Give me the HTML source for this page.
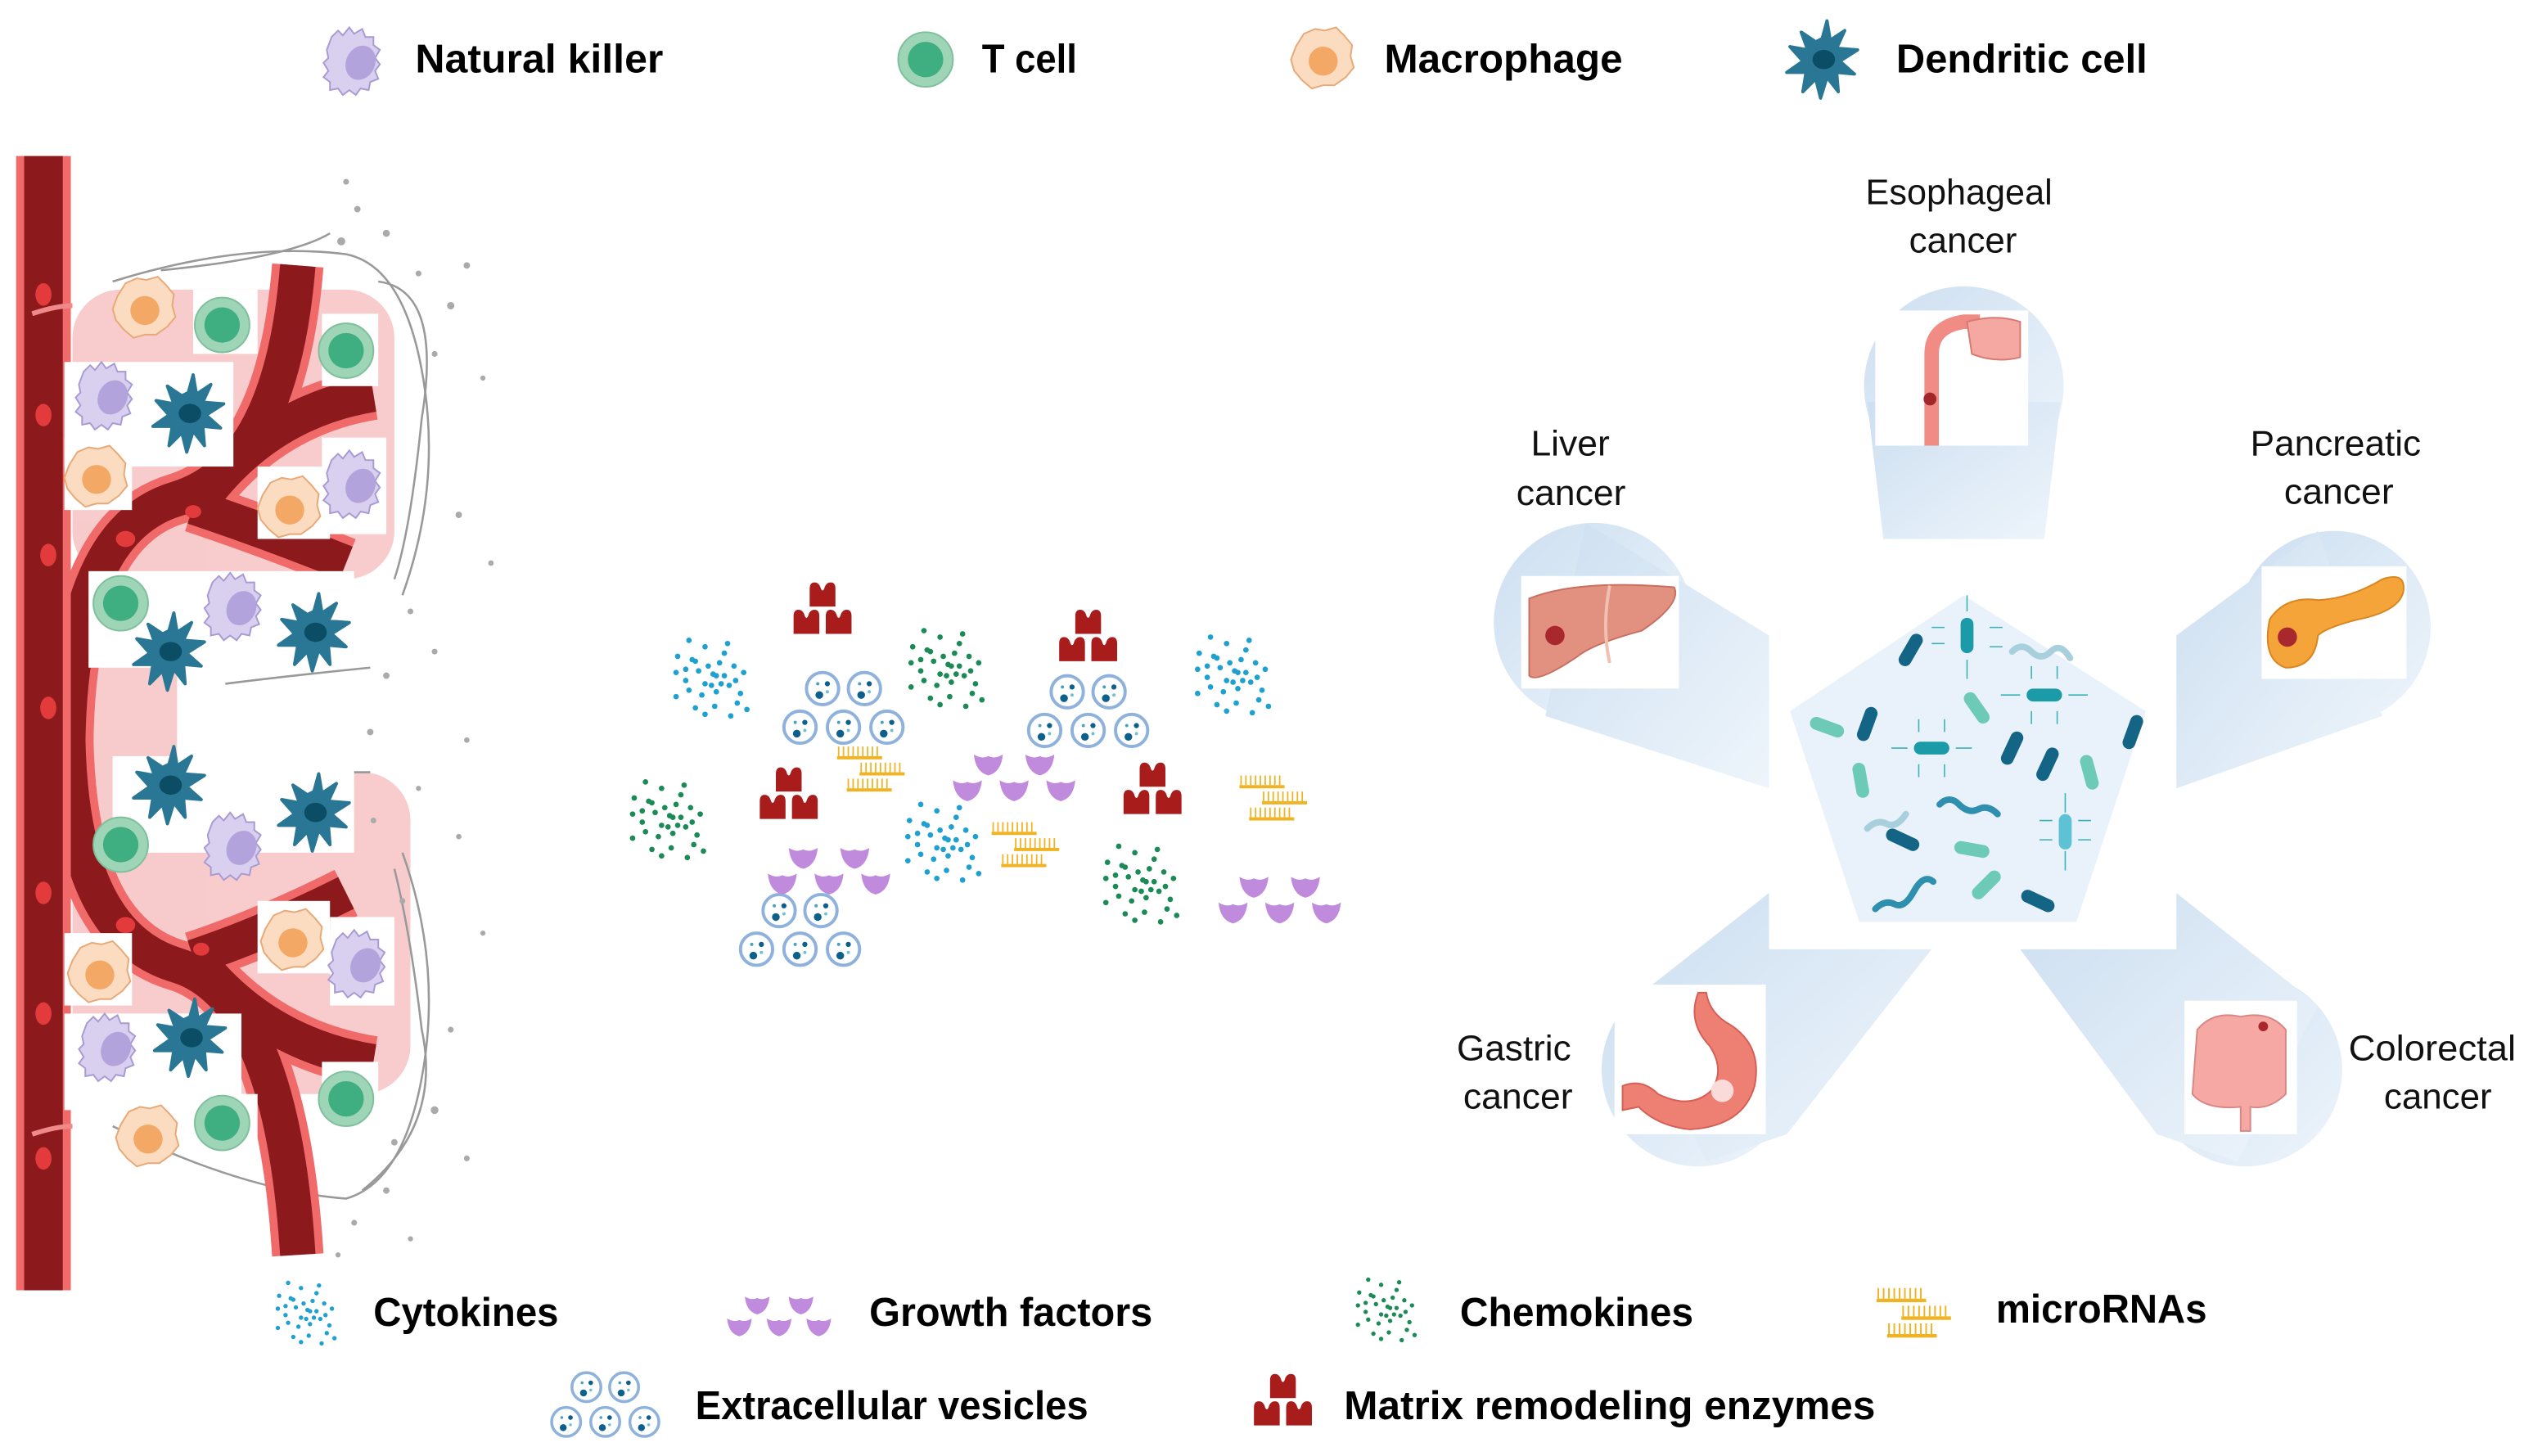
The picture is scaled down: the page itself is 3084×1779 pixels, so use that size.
<!DOCTYPE html>
<html><head><meta charset="utf-8"><style>
html,body{margin:0;padding:0;background:#fff;width:3084px;height:1779px;overflow:hidden}
svg{display:block}
.b{font-family:"Liberation Sans",sans-serif;font-weight:bold;font-size:25px;fill:#000}
.r{font-family:"Liberation Sans",sans-serif;font-size:22px;fill:#111}
</style></head><body>
<svg width="3084" height="1779" viewBox="0 0 1568 905" preserveAspectRatio="none" xmlns="http://www.w3.org/2000/svg">
<defs>
<linearGradient id="bg1" x1="0" y1="0" x2="1" y2="1"><stop offset="0" stop-color="#cddff1"/><stop offset="1" stop-color="#eef5fb"/></linearGradient>
<g id="nk"><path d="M-16,-14 l4,-4 3,3 4,-5 3,4 5,-3 2,5 5,0 0,5 4,3 -3,5 3,4 -3,4 2,5 -5,2 -1,5 -5,-1 -3,4 -4,-3 -4,3 -3,-4 -5,1 0,-5 -4,-3 3,-4 -3,-5 3,-3 -1,-5z" fill="#d8d0ee" stroke="#a99ad4" stroke-width="1"/><ellipse cx="2" cy="2" rx="9" ry="11" fill="#b3a3dc" transform="rotate(25 2 2)"/></g>
<g id="tc"><circle r="17" fill="#9dd5b6" stroke="#7fbf9c"/><circle r="11" fill="#3fae80"/></g>
<g id="mac"><path d="M-17,-8 l5,-8 7,-3 6,1 7,-2 5,5 5,6 -1,7 2,7 -5,6 -7,5 -7,0 -7,2 -6,-5 -5,-6 -2,-7z" fill="#fbdcc0" stroke="#e8a877"/><ellipse cx="0" cy="1" rx="9" ry="9" fill="#f4a865"/></g>
<g id="dc"><path d="M0,-13 L3,-24 5,-12 14,-18 9,-7 22,-6 11,1 20,9 9,8 10,20 3,11 -1,24 -4,12 -12,20 -10,8 -22,8 -12,1 -20,-8 -9,-6 -13,-17 -4,-11z" fill="#2a7795" stroke="#2a7795" stroke-width="2" stroke-linejoin="round"/><ellipse cx="1" cy="0" rx="7" ry="6" fill="#0c4d66"/></g>
<g id="mu"><path d="M-8,7 V-4 Q-8,-8 -5,-8 Q-2,-8 -1,-4 Q0,-2 1,-4 Q2,-8 5,-8 Q8,-8 8,-4 V7z" fill="#a81c1c"/></g>
<g id="mme"><use href="#mu" y="-8"/><use href="#mu" x="-10" y="9"/><use href="#mu" x="10" y="9"/></g>
<g id="ve"><circle r="10" fill="#fff" stroke="#8fb2dc" stroke-width="2"/><circle cx="-2" cy="4" r="2.4" fill="#0d5f8c"/><circle cx="3" cy="-3" r="1.6" fill="#0d5f8c"/><circle cx="-3" cy="-3" r="1" fill="#4aa0c0"/><circle cx="3" cy="2" r="1" fill="#6fc0d0"/></g>
<g id="ev"><use href="#ve" x="-13" y="-12"/><use href="#ve" x="13" y="-12"/><use href="#ve" x="-27" y="12"/><use href="#ve" x="0" y="12"/><use href="#ve" x="27" y="12"/></g>
<g id="cr"><path d="M-9,-5 Q-4,-2 0,-4 Q4,-2 9,-5 Q8,6 0,8 Q-8,6 -9,-5z" fill="#c08bdc"/></g>
<g id="gf"><use href="#cr" x="-16" y="-8"/><use href="#cr" x="16" y="-8"/><use href="#cr" x="-29" y="8"/><use href="#cr" x="0" y="8"/><use href="#cr" x="29" y="8"/></g>
<g id="cm"><rect x="-14" y="2" width="28" height="2" fill="#f0b323"/><path d="M-13,2v-6M-10,2v-6M-7,2v-6M-4,2v-6M-1,2v-6M2,2v-6M5,2v-6M8,2v-6M11,2v-6" stroke="#f0b323" stroke-width="0.9"/></g>
<g id="mi"><use href="#cm" x="-8" y="-10"/><use href="#cm" x="6" y="0"/><use href="#cm" x="-2" y="10"/></g>
<g id="dots"><circle cx="-20" cy="-22" r="1.7"/><circle cx="-10" cy="-18" r="1.7"/><circle cx="2" cy="-14" r="1.7"/><circle cx="-27" cy="-12" r="1.7"/><circle cx="-18" cy="-10" r="1.7"/><circle cx="-16" cy="-9" r="1.7"/><circle cx="-8" cy="-6" r="1.7"/><circle cx="-1" cy="-8" r="1.7"/><circle cx="8" cy="-6" r="1.7"/><circle cx="14" cy="-2" r="1.7"/><circle cx="-28" cy="-2" r="1.7"/><circle cx="-14" cy="-3" r="1.7"/><circle cx="-5" cy="-1" r="1.7"/><circle cx="-3" cy="0" r="1.7"/><circle cx="2" cy="0" r="1.7"/><circle cx="9" cy="3" r="1.7"/><circle cx="-22" cy="3" r="1.7"/><circle cx="-10" cy="5" r="1.7"/><circle cx="-6" cy="6" r="1.7"/><circle cx="0" cy="5" r="1.7"/><circle cx="5" cy="6" r="1.7"/><circle cx="-20" cy="9" r="1.7"/><circle cx="-12" cy="12" r="1.7"/><circle cx="-3" cy="10" r="1.7"/><circle cx="12" cy="11" r="1.7"/><circle cx="-28" cy="13" r="1.7"/><circle cx="-4" cy="19" r="1.7"/><circle cx="-16" cy="20" r="1.7"/><circle cx="10" cy="17" r="1.7"/><circle cx="-10" cy="24" r="1.7"/><circle cx="6" cy="25" r="1.7"/><circle cx="16" cy="21" r="1.7"/><circle cx="-22" cy="-4" r="1.7"/><circle cx="4" cy="-20" r="1.7"/></g>
<g id="cy" fill="#1ea0d0"><use href="#dots"/></g>
<g id="ch" fill="#1b8a56"><use href="#dots"/></g>
<g id="bac"><rect x="-4" y="-11" width="8" height="22" rx="4"/></g>
</defs>

<!-- top legend -->
<use href="#nk" x="222" y="37"/>
<text class="b" x="258" y="45" textLength="154" lengthAdjust="spacingAndGlyphs">Natural killer</text>
<use href="#tc" x="575" y="37"/>
<text class="b" x="610" y="45" textLength="59" lengthAdjust="spacingAndGlyphs">T cell</text>
<use href="#mac" x="822" y="37"/>
<text class="b" x="860" y="45" textLength="148" lengthAdjust="spacingAndGlyphs">Macrophage</text>
<use href="#dc" x="1132" y="37"/>
<text class="b" x="1178" y="45" textLength="156" lengthAdjust="spacingAndGlyphs">Dendritic cell</text>

<!-- left tissue -->
<g>
<g fill="#f7c6c6" opacity="0.9">
<rect x="45" y="180" width="200" height="180" rx="30"/>
<rect x="45" y="480" width="210" height="200" rx="30"/>
<rect x="50" y="330" width="60" height="200" rx="20"/>
</g>
<g fill="none" stroke="#999" stroke-width="1.3">
<path d="M70,175 Q150,150 215,158 Q250,165 262,230 Q275,300 250,370"/>
<path d="M100,168 Q180,160 205,145"/>
<path d="M235,175 Q275,180 262,260 Q255,330 245,360"/>
<path d="M70,700 Q150,740 215,745 Q250,735 262,670 Q275,600 250,530"/>
<path d="M225,740 Q275,700 262,640 Q255,580 245,540"/>
<path d="M140,425 Q180,420 230,415"/><path d="M140,480 Q180,480 230,480"/>
</g>
<g fill="#aaa">
<circle cx="215" cy="113" r="1.8"/><circle cx="222" cy="130" r="2"/><circle cx="240" cy="145" r="2.2"/><circle cx="212" cy="150" r="2.5"/><circle cx="260" cy="170" r="1.8"/><circle cx="290" cy="165" r="2"/><circle cx="280" cy="190" r="2.3"/><circle cx="270" cy="220" r="1.8"/><circle cx="300" cy="235" r="1.6"/><circle cx="285" cy="320" r="2"/><circle cx="305" cy="350" r="1.7"/><circle cx="255" cy="380" r="1.8"/><circle cx="270" cy="405" r="1.8"/><circle cx="240" cy="420" r="2"/><circle cx="290" cy="460" r="1.7"/><circle cx="260" cy="490" r="1.6"/><circle cx="285" cy="520" r="1.7"/><circle cx="250" cy="560" r="1.8"/><circle cx="300" cy="580" r="1.6"/><circle cx="280" cy="640" r="1.8"/><circle cx="270" cy="690" r="2.4"/><circle cx="290" cy="720" r="1.8"/><circle cx="240" cy="740" r="2"/><circle cx="220" cy="760" r="1.8"/><circle cx="255" cy="770" r="1.6"/><circle cx="210" cy="780" r="1.6"/><circle cx="245" cy="710" r="2"/><circle cx="230" cy="455" r="2"/><circle cx="232" cy="510" r="1.8"/>
</g>
<g fill="none" stroke-linecap="butt">
<g stroke="#f06a6a" stroke-width="32">
<path d="M42,470 Q42,330 110,310 Q175,290 185,165"/>
<path d="M130,305 Q170,255 232,245"/>
<path d="M120,315 Q165,330 215,350"/>
<path d="M42,450 Q42,580 110,600 Q175,620 185,780"/>
<path d="M130,605 Q170,650 232,660"/>
<path d="M120,595 Q165,580 215,555"/>
</g>
<g stroke="#8c1a1d" stroke-width="22">
<path d="M42,470 Q42,330 110,310 Q175,290 185,165"/>
<path d="M130,305 Q170,255 232,245"/>
<path d="M120,315 Q165,330 215,350"/>
<path d="M42,450 Q42,580 110,600 Q175,620 185,780"/>
<path d="M130,605 Q170,650 232,660"/>
<path d="M120,595 Q165,580 215,555"/>
</g>
</g>
<rect x="10" y="97" width="34" height="705" fill="#f06a6a"/>
<rect x="15" y="97" width="24" height="705" fill="#8c1a1d"/>
<g fill="#e33b3b"><ellipse cx="27" cy="183" rx="5" ry="7"/><ellipse cx="27" cy="258" rx="5" ry="7"/><ellipse cx="30" cy="345" rx="5" ry="7"/><ellipse cx="30" cy="440" rx="5" ry="7"/><ellipse cx="27" cy="555" rx="5" ry="7"/><ellipse cx="27" cy="630" rx="5" ry="7"/><ellipse cx="27" cy="720" rx="5" ry="7"/><ellipse cx="78" cy="335" rx="6" ry="5"/><ellipse cx="120" cy="318" rx="5" ry="4"/><ellipse cx="125" cy="590" rx="5" ry="4"/><ellipse cx="78" cy="575" rx="6" ry="5"/></g>
<g fill="#fff">
<rect x="40" y="225" width="105" height="65"/><rect x="40" y="272" width="42" height="45"/><rect x="160" y="290" width="45" height="45"/><rect x="200" y="272" width="40" height="60"/><rect x="55" y="355" width="165" height="60"/><rect x="70" y="470" width="150" height="60"/><rect x="40" y="580" width="42" height="45"/><rect x="40" y="630" width="110" height="60"/><rect x="160" y="560" width="45" height="45"/><rect x="205" y="570" width="40" height="55"/><rect x="200" y="195" width="35" height="45"/><rect x="200" y="660" width="35" height="45"/><rect x="120" y="180" width="40" height="40"/><rect x="120" y="680" width="40" height="40"/>
</g>
<use href="#mac" x="90" y="192"/>
<use href="#tc" x="138" y="202"/>
<use href="#tc" x="215" y="218"/>
<use href="#nk" x="68" y="245"/>
<use href="#dc" x="117" y="257"/>
<use href="#mac" x="60" y="297"/>
<use href="#mac" x="180" y="316"/>
<use href="#nk" x="222" y="300"/>
<use href="#tc" x="75" y="375"/>
<use href="#nk" x="148" y="376"/>
<use href="#dc" x="105" y="405"/>
<use href="#dc" x="195" y="393"/>
<use href="#dc" x="105" y="488"/>
<use href="#dc" x="195" y="505"/>
<use href="#tc" x="75" y="525"/>
<use href="#nk" x="148" y="525"/>
<use href="#mac" x="182" y="585"/>
<use href="#nk" x="225" y="598"/>
<use href="#mac" x="62" y="605"/>
<use href="#nk" x="70" y="650"/>
<use href="#dc" x="118" y="645"/>
<use href="#tc" x="215" y="683"/>
<use href="#tc" x="138" y="698"/>
<use href="#mac" x="92" y="707"/>
<path d="M20,195 Q35,190 45,190" stroke="#f08a8a" stroke-width="3" fill="none"/>
<path d="M20,705 Q35,700 45,700" stroke="#f08a8a" stroke-width="3" fill="none"/>
</g>

<!-- middle particles -->
<use href="#mme" x="511" y="378"/><use href="#mme" x="676" y="395"/><use href="#mme" x="490" y="493"/><use href="#mme" x="716" y="490"/>
<use href="#ev" x="524" y="440"/><use href="#ev" x="676" y="442"/><use href="#ev" x="497" y="578"/>
<use href="#cy" x="448" y="420"/><use href="#cy" x="772" y="418"/><use href="#cy" x="592" y="522"/>
<use href="#ch" x="594" y="414"/><use href="#ch" x="421" y="508"/><use href="#ch" x="715" y="548"/>
<use href="#gf" x="630" y="482"/><use href="#gf" x="515" y="540"/><use href="#gf" x="795" y="558"/>
<use href="#mi" x="542" y="478"/><use href="#mi" x="638" y="525"/><use href="#mi" x="792" y="496"/>

<!-- right: beams -->
<g fill="url(#bg1)">
<circle cx="1220" cy="240" r="62"/><polygon points="1160,250 1280,250 1270,335 1170,335"/>
<circle cx="990" cy="387" r="62"/><polygon points="985,325 1099,395 1099,490 960,445"/>
<circle cx="1450" cy="390" r="60"/><polygon points="1440,330 1352,395 1352,490 1480,445"/>
<circle cx="1055" cy="665" r="60"/><polygon points="1010,625 1099,555 1099,590 1200,590 1110,705 1060,722"/>
<circle cx="1395" cy="665" r="60"/><polygon points="1440,625 1352,555 1352,590 1255,590 1340,705 1390,722"/>
</g>
<rect x="1099" y="335" width="253" height="255" fill="#fff"/>
<polygon points="1220,370 1333,442 1290,573 1155,573 1112,442" fill="#e9f2fb"/>
<!-- bacteria -->
<g>
<g fill="#136485"><use href="#bac" transform="translate(1187,404) rotate(30)"/><use href="#bac" transform="translate(1160,450) rotate(20)"/><use href="#bac" transform="translate(1250,465) rotate(25)"/><use href="#bac" transform="translate(1272,475) rotate(25)"/><use href="#bac" transform="translate(1325,455) rotate(20)"/><use href="#bac" transform="translate(1182,522) rotate(-65)"/><use href="#bac" transform="translate(1266,560) rotate(-65)"/></g>
<g fill="#1b9aa8"><use href="#bac" transform="translate(1222,395)"/><use href="#bac" transform="translate(1270,432) rotate(90)"/><use href="#bac" transform="translate(1200,465) rotate(90)"/><use href="#bac" transform="translate(1283,517)" fill="#5cc2d4"/></g>
<g fill="#6ccab6"><use href="#bac" transform="translate(1228,440) rotate(-35)"/><use href="#bac" transform="translate(1135,452) rotate(-70)"/><use href="#bac" transform="translate(1156,485) rotate(-10)"/><use href="#bac" transform="translate(1298,480) rotate(-15)"/><use href="#bac" transform="translate(1225,528) rotate(-80)"/><use href="#bac" transform="translate(1234,550) rotate(45)"/></g>
<g fill="none" stroke-width="4" stroke-linecap="round"><path d="M1250,405 q6,-6 12,0 t12,0 t12,4" stroke="#a8d0dc"/><path d="M1160,515 q6,-6 12,-3 t12,-6" stroke="#a8d0dc"/><path d="M1205,500 q6,-6 12,0 t12,3 t12,3" stroke="#2f8fae"/><path d="M1165,565 q6,-6 12,-3 t12,-8 t12,-6" stroke="#2f8fae"/></g>
<g stroke="#3ab0b8" stroke-width="0.8" fill="none"><path d="M1222,380v-10M1222,410v12M1208,390h-8M1236,390h8M1208,400h-8M1236,402h8"/><path d="M1255,432h-12M1285,432h12M1262,422v-8M1278,422v-8M1262,442v8M1278,442v8"/><path d="M1185,465h-10M1215,465h10M1192,455v-8M1208,455v-8M1192,475v8M1208,475v8"/><path d="M1283,505v-12M1283,529v12M1275,510h-8M1291,510h8M1275,522h-8M1291,522h8"/></g>
</g>
<!-- organ photos -->
<rect x="1165" y="193" width="95" height="84" fill="#fff"/>
<path d="M1200,277 V220 Q1200,203 1220,200 L1230,200" stroke="#f08c84" stroke-width="9" fill="none"/>
<path d="M1222,200 Q1240,195 1255,200 L1255,222 Q1240,226 1225,220z" fill="#f5a7a2" stroke="#d67a74"/>
<circle cx="1199" cy="248" r="4" fill="#a3262a"/>
<rect x="945" y="358" width="98" height="70" fill="#fff"/>
<path d="M950,372 Q980,360 1040,365 Q1045,375 1020,392 Q990,400 980,408 Q955,425 950,420z" fill="#e29080" stroke="#c87060"/>
<path d="M1000,364 Q995,390 1000,412" stroke="#f0c0b0" stroke-width="2" fill="none"/>
<circle cx="966" cy="395" r="6" fill="#a8282e"/>
<rect x="1405" y="352" width="90" height="70" fill="#fff"/>
<path d="M1410,385 Q1420,370 1440,373 Q1460,372 1480,360 Q1495,355 1493,368 Q1490,380 1465,385 Q1445,390 1440,395 Q1438,415 1420,415 Q1405,410 1410,385z" fill="#f5a43a" stroke="#d98520"/>
<circle cx="1421" cy="396" r="6" fill="#a8282e"/>
<rect x="1003" y="612" width="94" height="93" fill="#fff"/>
<path d="M1060,617 Q1062,630 1075,637 Q1095,650 1090,675 Q1083,700 1050,702 Q1030,700 1018,688 L1008,690 L1008,675 Q1020,670 1030,680 Q1050,690 1063,678 Q1072,665 1062,650 Q1048,635 1055,617z" fill="#ee7f73" stroke="#d55e55"/>
<circle cx="1070" cy="678" r="7" fill="#fbdada"/>
<rect x="1357" y="622" width="70" height="83" fill="#fff"/>
<path d="M1365,640 Q1375,628 1392,632 Q1410,628 1420,640 L1420,680 Q1410,690 1398,688 L1398,703 L1392,703 L1392,688 Q1370,690 1362,680z" fill="#f5a8a4" stroke="#d98784"/>
<circle cx="1406" cy="638" r="3" fill="#a8282e"/>

<!-- cancer labels -->
<text class="r" x="1159" y="127" textLength="116" lengthAdjust="spacingAndGlyphs">Esophageal</text>
<text class="r" x="1186" y="157" textLength="67" lengthAdjust="spacingAndGlyphs">cancer</text>
<text class="r" x="951" y="283" textLength="49" lengthAdjust="spacingAndGlyphs">Liver</text>
<text class="r" x="942" y="314" textLength="68" lengthAdjust="spacingAndGlyphs">cancer</text>
<text class="r" x="1398" y="283" textLength="106" lengthAdjust="spacingAndGlyphs">Pancreatic</text>
<text class="r" x="1419" y="313" textLength="68" lengthAdjust="spacingAndGlyphs">cancer</text>
<text class="r" x="905" y="659" textLength="71" lengthAdjust="spacingAndGlyphs">Gastric</text>
<text class="r" x="909" y="689" textLength="68" lengthAdjust="spacingAndGlyphs">cancer</text>
<text class="r" x="1459" y="659" textLength="104" lengthAdjust="spacingAndGlyphs">Colorectal</text>
<text class="r" x="1481" y="689" textLength="67" lengthAdjust="spacingAndGlyphs">cancer</text>

<!-- bottom legend -->
<use href="#cy" x="195" y="815" transform="translate(195 815) scale(0.8) translate(-195 -815)"/>
<text class="b" x="232" y="824" textLength="115" lengthAdjust="spacingAndGlyphs">Cytokines</text>
<use href="#gf" x="484" y="817" transform="translate(484 817) scale(0.85) translate(-484 -817)"/>
<text class="b" x="540" y="824" textLength="176" lengthAdjust="spacingAndGlyphs">Growth factors</text>
<use href="#ch" x="866" y="813" transform="translate(866 813) scale(0.8) translate(-866 -813)"/>
<text class="b" x="907" y="824" textLength="145" lengthAdjust="spacingAndGlyphs">Chemokines</text>
<use href="#mi" x="1190" y="816" transform="translate(1190 816) scale(1.1) translate(-1190 -816)"/>
<text class="b" x="1240" y="822" textLength="131" lengthAdjust="spacingAndGlyphs">microRNAs</text>
<use href="#ev" x="376" y="873" transform="translate(376 873) scale(0.9) translate(-376 -873)"/>
<text class="b" x="432" y="882" textLength="244" lengthAdjust="spacingAndGlyphs">Extracellular vesicles</text>
<use href="#mme" x="797" y="870"/>
<text class="b" x="835" y="882" textLength="330" lengthAdjust="spacingAndGlyphs">Matrix remodeling enzymes</text>
</svg>
</body></html>
